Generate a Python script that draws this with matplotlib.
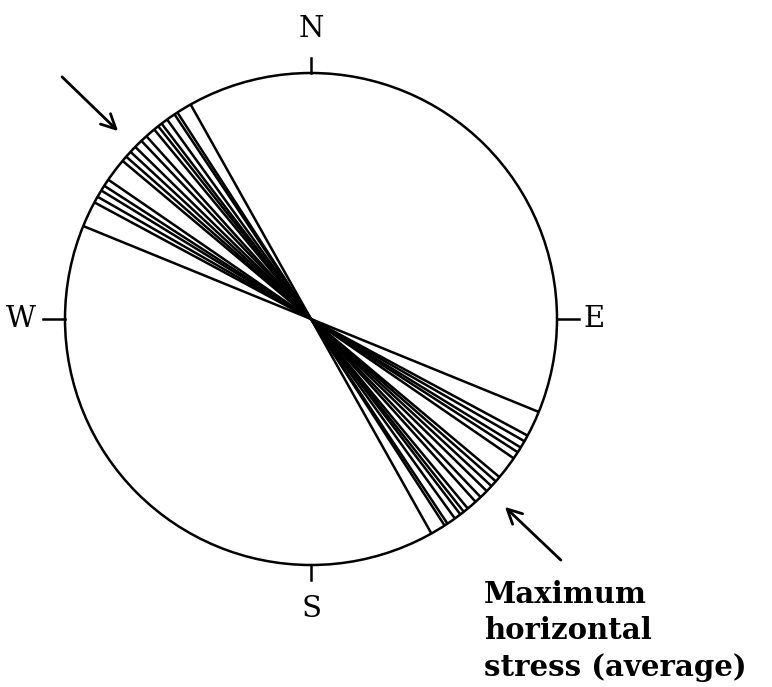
import numpy as np
import matplotlib
matplotlib.use("Agg")
import matplotlib.pyplot as plt
from matplotlib.patches import Circle

# Azimuths (degrees clockwise from north) of measured maximum horizontal stress directions
azimuths = [292.2, 298.3, 299.8, 301.5, 302.8, 304.5, 310.0, 311.3, 312.8,
            314.4, 316.4, 318.0, 320.4, 321.6, 322.6, 324.2, 326.3, 327.1,
            330.7]
directions = ["N", "E", "S", "W"]
direction_az = [0, 90, 180, 270]
note = "Maximum\nhorizontal\nstress (average)"

W, H = 772, 687
cx, cy, R = 311, 319, 246  # pixel location of the circle
fig = plt.figure(figsize=(W / 100, H / 100), dpi=100)
ax = fig.add_axes([0, 0, 1, 1])
ax.set_xlim(-cx / R, (W - cx) / R)
ax.set_ylim(-(H - cy) / R, cy / R)
ax.set_aspect("equal")
ax.axis("off")

lw = 1.8
ax.add_patch(Circle((0, 0), 1.0, fill=False, lw=lw, color="black"))

for az in azimuths:
    t = np.deg2rad(az)
    x, y = np.sin(t), np.cos(t)
    ax.plot([x, -x], [y, -y], color="black", lw=lw, solid_capstyle="butt")

font = dict(family=["DejaVu Serif"], color="black")
tick_len = {"N": 0.06, "S": 0.06, "E": 0.09, "W": 0.09}
label_r = {"N": 1.18, "S": 1.18, "E": 1.15, "W": 1.18}
for d, az in zip(directions, direction_az):
    t = np.deg2rad(az)
    x, y = np.sin(t), np.cos(t)
    L = tick_len[d]
    ax.plot([x, x * (1 + L)], [y, y * (1 + L)], color="black", lw=lw)
    ax.text(x * label_r[d], y * label_r[d], d, ha="center", va="center",
            fontsize=21, **font)

# arrows pointing at the average direction
arr = dict(arrowstyle="->", lw=2.0, color="black", mutation_scale=26)
ax.annotate("", xy=(-0.776, 0.756), xytext=(-1.02, 0.992), arrowprops=arr)
ax.annotate("", xy=(0.780, -0.756), xytext=(1.024, -0.988), arrowprops=arr)

ax.text(0.703, -1.06, note, ha="left", va="top", fontsize=21,
        fontweight="semibold", linespacing=1.33, **font)

fig.savefig("out.png", dpi=100)
